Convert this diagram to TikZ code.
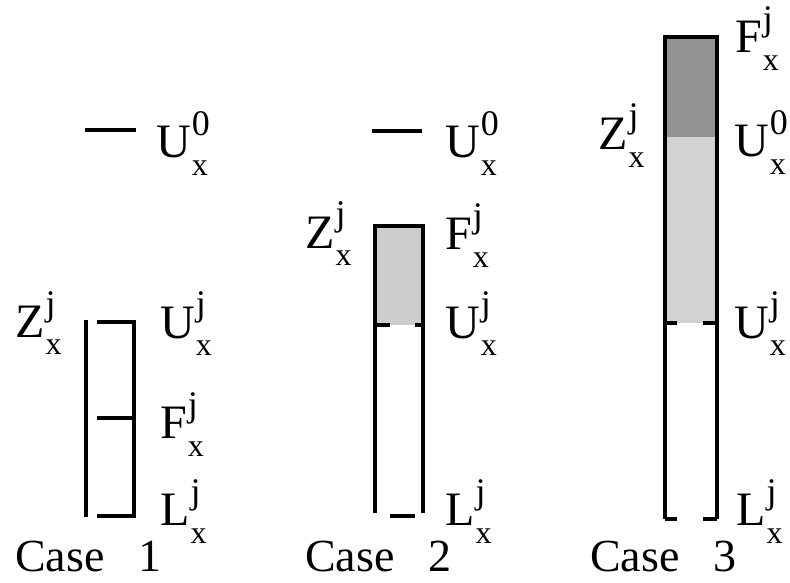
\documentclass[tikz,border=0pt]{standalone}
\usepackage{fontspec}
\setmainfont{Liberation Serif}
\usepackage{tikz}
\usetikzlibrary{arrows}
% letter with superscript and subscript, set by hand
\newcommand{\lbl}[3]{{\fontsize{48}{48}\selectfont #1}\hspace{1pt}\makebox[0pt][l]{\raisebox{22pt}{\fontsize{36}{36}\selectfont #2}}\raisebox{-18pt}{\fontsize{32}{32}\selectfont #3}}
\newcommand{\casetxt}[1]{{\fontsize{46}{46}\selectfont Case\hspace{34pt}#1}}

\begin{document}
\begin{tikzpicture}[x=1pt,y=1pt]
		\useasboundingbox (0,0) rectangle (790,582);
		\tikzset{bar/.style={line width=3.8pt},
			lab/.style={anchor=base west, inner sep=0pt}}
		
		% Case 1
		\draw[bar] (85,452) -- (136,452);
		\draw[bar] (86,262) -- (86,65);
		\draw[bar] (97,260) -- (134,260) -- (134,66) -- (97,66);
		\draw[bar] (97,164) -- (134,164);
		\node[lab] (uo1) at (156,424) {\lbl{U}{0}{x}};
		\node[lab] (z1) at (15,245) {\lbl{Z}{j}{x}};
		\node[lab] (uj1) at (160,244) {\lbl{U}{j}{x}};
		\node[lab] (fj1) at (160,144) {\lbl{F}{j}{x}};
		\node[lab] (lj1) at (160,57) {\lbl{L}{j}{x}};
		\node[lab] (case1) at (15,11) {\casetxt{1}};
		
		% Case 2
		\draw[bar] (372,451) -- (422,451);
		\fill[gray!40] (375,356) rectangle (423,257);
		\draw[bar] (375,69) -- (375,356) -- (423,356) -- (423,69);
		\draw[bar] (375,257) -- (390,257);
		\draw[bar] (415,257) -- (423,257);
		\draw[bar] (390,66) -- (415,66);
		\node[lab] (uo2) at (445,424) {\lbl{U}{0}{x}};
		\node[lab] (z2) at (305,334) {\lbl{Z}{j}{x}};
		\node[lab] (fj2) at (445,332) {\lbl{F}{j}{x}};
		\node[lab] (uj2) at (445,244) {\lbl{U}{j}{x}};
		\node[lab] (lj2) at (445,57) {\lbl{L}{j}{x}};
		\node[lab] (case2) at (305,11) {\casetxt{2}};
		
		% Case 3
		\fill[gray!85] (665,545) rectangle (717,445);
		\fill[gray!35] (665,445) rectangle (717,259);
		\draw[bar] (665,63) -- (665,545) -- (717,545) -- (717,63);
		\draw[bar] (665,259) -- (677,259);
		\draw[bar] (703,259) -- (717,259);
		\draw[bar] (665,63) -- (677,63);
		\draw[bar] (703,63) -- (717,63);
		\node[lab] (fj3) at (735,529) {\lbl{F}{j}{x}};
		\node[lab] (z3) at (598,432) {\lbl{Z}{j}{x}};
		\node[lab] (uo3) at (734,425) {\lbl{U}{0}{x}};
		\node[lab] (uj3) at (734,244) {\lbl{U}{j}{x}};
		\node[lab] (lj3) at (736,57) {\lbl{L}{j}{x}};
		\node[lab] (case3) at (590,11) {\casetxt{3}};
	\end{tikzpicture}
\end{document}
